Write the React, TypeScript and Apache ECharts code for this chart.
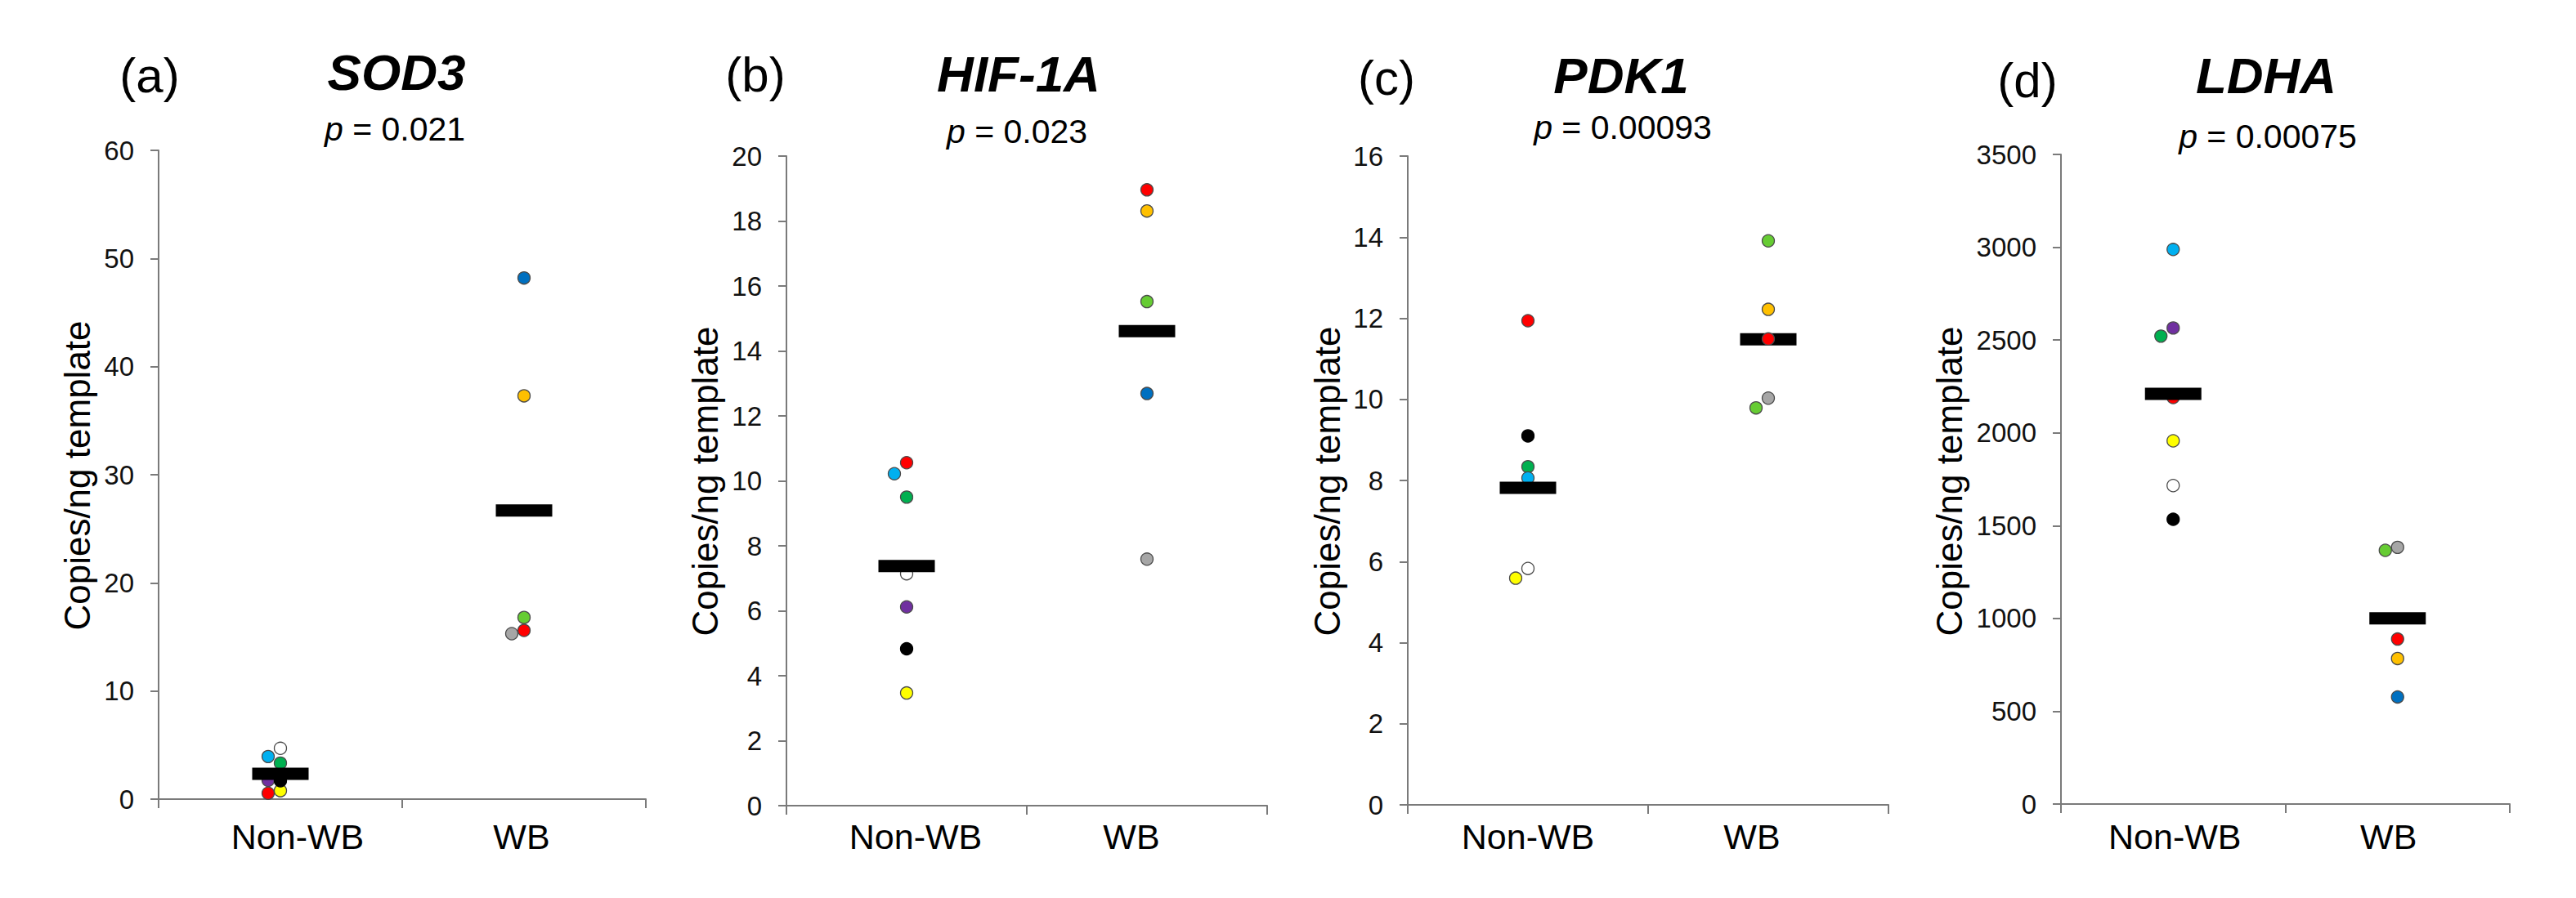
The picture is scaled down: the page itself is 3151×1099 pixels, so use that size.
import React, { useEffect, useRef } from 'react';
import * as echarts from 'echarts';

// ---------- data ----------
const groups = ['Non-WB', 'WB'];
const panelLabels = ['(a)', '(b)', '(c)', '(d)'];
const geneNames = ['SOD3', 'HIF-1A', 'PDK1', 'LDHA'];
const pValues = ['0.021', '0.023', '0.00093', '0.00075'];
const yMax = [60, 20, 16, 3500];
const yStep = [10, 2, 2, 500];
const yAxisTitle = 'Copies/ng template';

// Non-WB samples, drawing order: purple, green, light blue, white, yellow, black, red
const sod3NonWB = [1.74, 3.33, 3.94, 4.7, 0.78, 1.7, 0.55];
const hif1aNonWB = [6.12, 9.5, 10.22, 7.14, 3.47, 4.83, 10.56];
const pdk1NonWB = [null, 8.34, 8.06, 5.83, 5.59, 9.1, 11.94];
const ldhaNonWB = [2565, 2521, 2988, 1716, 1957, 1534, 2190];

// WB samples, drawing order: gray, green, red, orange, blue
const sod3WB = [15.3, 16.8, 15.6, 37.3, 48.2];
const hif1aWB = [7.59, 15.52, 18.96, 18.31, 12.69];
const pdk1WB = [10.03, 9.79, 11.49, 12.22, 13.91];
const ldhaWB = [1383, 1367, 889, 784, 577];

// group means (black bars)
const meanNonWB = [2.35, 7.38, 7.82, 2210];
const meanWB = [26.7, 14.61, 11.48, 1000];

const nonWBData = [sod3NonWB, hif1aNonWB, pdk1NonWB, ldhaNonWB];
const wbData = [sod3WB, hif1aWB, pdk1WB, ldhaWB];

// ---------- styles & layout ----------
const FONT = '"Liberation Sans", Arial, Helvetica, sans-serif';
const AXIS_COLOR = '#7a7a7a';
const nonWbColors = ['#7030A0', '#00B050', '#00B0F0', '#FFFFFF', '#FFFF00', '#000000', '#FF0000'];
const wbColorsDefault = ['#A6A6A6', '#66CC33', '#FF0000', '#FFC000', '#0070C0'];
const wbColorsPDK1 = ['#A6A6A6', '#66CC33', '#FF0000', '#FFC000', '#66CC33'];
const wbColors = [wbColorsDefault, wbColorsDefault, wbColorsPDK1, wbColorsDefault];
const nonWbShifted = [[0, 2, 6], [2], [4], [1]];
const wbShifted = [[0], [], [1], [1]];
const SHIFT = -15;
const MARKER = 15;
const X_LABEL_SIZE = 43;
// horizontal nudge (px) of each category label, per panel: [Non-WB, WB]
const xLabelShift = [[21, -3], [11, -19], [0, -20], [2, -11]];

const grids = [
  { left: 194, top: 184, width: 596, height: 794 },
  { left: 962, top: 191, width: 588, height: 795 },
  { left: 1722, top: 191, width: 588, height: 794 },
  { left: 2521, top: 189, width: 549, height: 795 },
];
const labelPos = [[183, 92], [924, 91], [1696, 95], [2480, 98]];
const genePos = [[485, 88], [1246, 90], [1983, 92], [2772, 92]];
const pPos = [[483, 158], [1244, 161], [1985, 156], [2774, 167]];
const yTitlePos = [[94, 582], [862, 589], [1623, 589], [2384, 589]];

function shiftStyle(dx: number) {
  const pad = Math.abs(dx) * 2;
  return {
    fontSize: X_LABEL_SIZE,
    fontFamily: FONT,
    color: '#000',
    padding: dx >= 0 ? [0, 0, 0, pad] : [0, pad, 0, 0],
  };
}

function buildOption() {
  const grid: any[] = [];
  const xAxis: any[] = [];
  const yAxis: any[] = [];
  const series: any[] = [];
  const graphic: any[] = [];

  for (let i = 0; i < 4; i++) {
    const g = grids[i];
    grid.push({ left: g.left, top: g.top, width: g.width, height: g.height, containLabel: false });
    const bottom = g.top + g.height;
    xAxis.push({
      type: 'category',
      gridIndex: i,
      data: groups,
      boundaryGap: true,
      axisLine: { show: true, lineStyle: { color: AXIS_COLOR, width: 2 } },
      axisTick: { show: true, inside: false, length: 11, alignWithLabel: false, interval: 0, lineStyle: { color: AXIS_COLOR, width: 2 } },
      axisLabel: {
        interval: 0,
        hideOverlap: false,
        fontSize: X_LABEL_SIZE,
        color: '#000',
        fontFamily: FONT,
        margin: 1002 - bottom,
        formatter: (v: string, idx: number) => `{s${idx}|${v}}`,
        rich: {
          s0: shiftStyle(xLabelShift[i][0]),
          s1: shiftStyle(xLabelShift[i][1]),
        },
      },
      splitLine: { show: false },
    });
    yAxis.push({
      type: 'value',
      gridIndex: i,
      min: 0,
      max: yMax[i],
      interval: yStep[i],
      axisLine: { show: true, lineStyle: { color: AXIS_COLOR, width: 2 } },
      axisTick: { show: true, inside: false, length: 10, lineStyle: { color: AXIS_COLOR, width: 2 } },
      axisLabel: {
        fontSize: 33,
        color: '#111',
        fontFamily: FONT,
        margin: 30,
        formatter: (v: number) => String(v),
      },
      splitLine: { show: false },
    });

    const markerBase = (color: string) => ({
      color,
      opacity: 1,
      borderColor: color === '#000000' ? '#000000' : '#4a4a4a',
      borderWidth: 1.3,
    });

    series.push({
      type: 'scatter',
      xAxisIndex: i,
      yAxisIndex: i,
      symbol: 'circle',
      symbolSize: MARKER,
      itemStyle: { opacity: 1 },
      data: nonWBData[i]
        .map((v, k) =>
          v == null
            ? null
            : {
                value: [groups[0], v],
                itemStyle: markerBase(nonWbColors[k]),
                symbolOffset: [nonWbShifted[i].includes(k) ? SHIFT : 0, 0],
              }
        )
        .filter((d) => d !== null),
    });

    series.push({
      type: 'scatter',
      xAxisIndex: i,
      yAxisIndex: i,
      symbol: 'rect',
      symbolSize: [69, 15],
      itemStyle: { color: '#000', opacity: 1 },
      data: [
        [groups[0], meanNonWB[i]],
        [groups[1], meanWB[i]],
      ],
    });

    series.push({
      type: 'scatter',
      xAxisIndex: i,
      yAxisIndex: i,
      symbol: 'circle',
      symbolSize: MARKER,
      itemStyle: { opacity: 1 },
      data: wbData[i].map((v, k) => ({
        value: [groups[1], v],
        itemStyle: markerBase(wbColors[i][k]),
        symbolOffset: [wbShifted[i].includes(k) ? SHIFT : 0, 0],
      })),
    });

    graphic.push({
      type: 'text',
      x: labelPos[i][0],
      y: labelPos[i][1],
      style: {
        text: panelLabels[i],
        font: `60px ${FONT}`,
        fill: '#000',
        align: 'center',
        verticalAlign: 'middle',
        textAlign: 'center',
        textVerticalAlign: 'middle',
      },
    });
    graphic.push({
      type: 'text',
      x: genePos[i][0],
      y: genePos[i][1],
      style: {
        text: geneNames[i],
        font: `italic bold 62px ${FONT}`,
        fill: '#000',
        align: 'center',
        verticalAlign: 'middle',
        textAlign: 'center',
        textVerticalAlign: 'middle',
      },
    });
    graphic.push({
      type: 'text',
      x: pPos[i][0],
      y: pPos[i][1],
      style: {
        text: `{i|p} = ${pValues[i]}`,
        fontSize: 41,
        fontFamily: FONT,
        fill: '#000',
        align: 'center',
        verticalAlign: 'middle',
        textAlign: 'center',
        textVerticalAlign: 'middle',
        rich: {
          i: { fontStyle: 'italic', fontSize: 41, fontFamily: FONT, fill: '#000' },
        },
      },
    });
    graphic.push({
      type: 'text',
      x: yTitlePos[i][0],
      y: yTitlePos[i][1],
      rotation: Math.PI / 2,
      style: {
        text: yAxisTitle,
        font: `44px ${FONT}`,
        fill: '#000',
        align: 'center',
        verticalAlign: 'middle',
        textAlign: 'center',
        textVerticalAlign: 'middle',
      },
    });
  }

  return {
    animation: false,
    backgroundColor: '#ffffff',
    textStyle: { fontFamily: FONT },
    grid,
    xAxis,
    yAxis,
    series,
    graphic: { elements: graphic },
  };
}

export default function App() {
  const ref = useRef<HTMLDivElement>(null);
  useEffect(() => {
    if (!ref.current) return;
    const chart = echarts.init(ref.current, undefined, { renderer: 'svg' });
    chart.setOption(buildOption() as any);
    return () => chart.dispose();
  }, []);
  return (
    <div
      ref={ref}
      style={{ position: 'absolute', left: 0, top: 0, width: 3151, height: 1099, background: '#fff' }}
    />
  );
}
